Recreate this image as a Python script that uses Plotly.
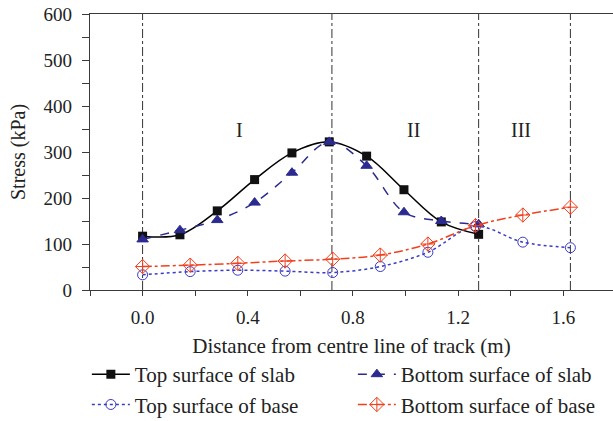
import plotly.graph_objects as go

# Data
x_slab = [0.0, 0.142, 0.284, 0.426, 0.568, 0.71, 0.852, 0.994, 1.136, 1.278]
top_slab = [117, 120, 172, 240, 298, 322, 291, 218, 148, 121]
bottom_slab = [110, 130, 152, 190, 255, 322, 270, 169, 150, 143]

x_base = [0.0, 0.181, 0.362, 0.542, 0.723, 0.904, 1.085, 1.266, 1.446, 1.627]
top_base = [33, 40, 43, 41, 38, 51, 82, 138, 104, 92]
bottom_base = [51, 54, 58, 63, 67, 76, 100, 140, 163, 180]

region_bounds = [0.0, 0.72, 1.278, 1.627]
region_labels = ["I", "II", "III"]
region_label_x = [0.37, 1.03, 1.44]
region_label_y = [348, 348, 348]

x_ticks = [0.0, 0.4, 0.8, 1.2, 1.6]
y_ticks = [0, 100, 200, 300, 400, 500, 600]

FONT = "Liberation Serif"
TXT = "#222222"
AX = "#3a3a3a"
BLUE_D = "#2b2b8f"
BLUE_O = "#3a3ac8"
RED = "#f0401e"


def f(size, fam=FONT):
    return dict(family=fam, size=size, color=TXT)


fig = go.Figure()

for xv in region_bounds:
    fig.add_vline(x=xv, line=dict(color="#333333", width=1, dash="dashdot"), layer="below")

fig.add_trace(go.Scatter(
    x=x_slab, y=top_slab, name="Top surface of slab", mode="lines+markers",
    line=dict(color="black", width=1.5, shape="spline"),
    marker=dict(symbol="square", size=9, color="#111111")))
fig.add_trace(go.Scatter(
    x=x_slab, y=bottom_slab, name="Bottom surface of slab", mode="lines+markers",
    line=dict(color=BLUE_D, width=1.5, dash="dash", shape="spline"),
    marker=dict(symbol="triangle-up", size=10, color=BLUE_D,
                line=dict(color=BLUE_D, width=1))))
fig.add_trace(go.Scatter(
    x=x_base, y=top_base, name="Top surface of base", mode="lines+markers",
    line=dict(color=BLUE_O, width=1.5, dash="dot", shape="spline"),
    marker=dict(symbol="circle-open", size=10, color=BLUE_O, line=dict(width=1))))
fig.add_trace(go.Scatter(
    x=x_base, y=bottom_base, name="Bottom surface of base", mode="lines+markers",
    line=dict(color=RED, width=1.5, dash="dashdot", shape="spline"),
    marker=dict(symbol="diamond-cross-open", size=11, color=RED, line=dict(width=1))))

for lab, lx, ly in zip(region_labels, region_label_x, region_label_y):
    fig.add_annotation(x=lx, y=ly, text=lab, showarrow=False, font=f(20))

fig.update_layout(
    template="none",
    width=613, height=421,
    margin=dict(l=90, r=0, t=14, b=131, autoexpand=False),
    paper_bgcolor="white", plot_bgcolor="white",
    font=f(18),
    showlegend=True,
    legend=dict(orientation="h", x=-0.006, xanchor="left", y=-0.232, yanchor="top",
                entrywidth=213, entrywidthmode="pixels",
                font=f(21), itemwidth=38, bgcolor="rgba(0,0,0,0)"),
)
fig.update_xaxes(range=[-0.2, 1.789], tickvals=x_ticks, ticktext=[f"{v:.1f}" for v in x_ticks],
                 ticks="outside", ticklen=5, tickcolor=AX, ticklabelstandoff=5,
                 tickfont=f(19),
                 minor=dict(dtick=0.2, tick0=0, ticks="outside", ticklen=5, tickcolor=AX),
                 showline=True, linecolor=AX, linewidth=1.2, mirror=True,
                 showgrid=False, zeroline=False,
                 title=dict(text="Distance from centre line of track (m)", standoff=11,
                            font=f(21)))
fig.update_yaxes(range=[0, 600], tickvals=y_ticks,
                 ticks="outside", ticklen=7, tickcolor=AX, ticklabelstandoff=6,
                 tickfont=f(19),
                 minor=dict(dtick=50, tick0=0, ticks="outside", ticklen=7, tickcolor=AX),
                 showline=True, linecolor=AX, linewidth=1.2,
                 showgrid=False, zeroline=False,
                 title=dict(text="Stress (kPa)", standoff=12, font=f(20)))

fig.write_html("out.html")
